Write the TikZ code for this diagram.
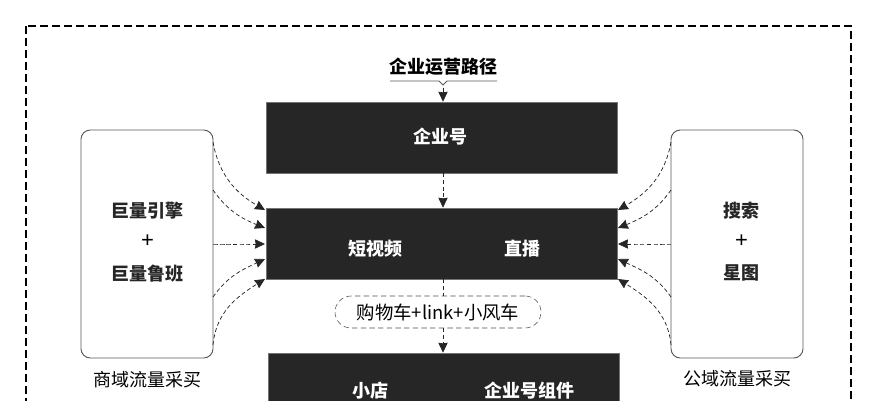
\documentclass[tikz,border=0pt]{standalone}
\usepackage{fontspec}
\setmainfont{Noto Sans CJK SC}
\newfontfamily\plusfont{Liberation Sans}
\usetikzlibrary{arrows.meta,positioning}

\begin{document}
\begin{tikzpicture}[x=0.75pt,y=-0.75pt,>={Stealth[length=7.5pt,width=7pt,inset=0.5pt]},font=\fontsize{13.5pt}{16pt}\selectfont,
  dark node/.style={rectangle,fill=black!85,draw=black!55,minimum width=263.5pt,minimum height=53.25pt,inner sep=0pt},
  dark text/.style={text=white,font=\fontsize{13.5pt}{16pt}\selectfont\bfseries},
  side node/.style={rectangle,rounded corners=7pt,draw=black!65,line width=0.7pt,minimum width=99pt,minimum height=171pt},
  side text/.style={text=black!85,font=\fontsize{13.5pt}{16pt}\selectfont\bfseries},
  plus node/.style={font=\fontsize{16.5pt}{18pt}\selectfont\plusfont,inner sep=0pt},
  flow/.style={->,dash pattern=on 3pt off 2pt,line width=0.55pt,black!85}]

  \path[use as bounding box,clip] (0,0) rectangle (888,400);

  \draw[dash pattern=on 6pt off 3pt,line width=1.2pt] (26,26) rectangle (851,430);

  \node[dark node] (account) at (441.5,137.5) {};
  \node[dark node] (content) [below of=account,node distance=79.5pt] {};
  \node[rectangle,rounded corners=12pt,draw=black!70,dash pattern=on 4pt off 2.5pt,minimum width=154.5pt,minimum height=24pt,inner sep=0pt,font=\fontsize{13.8pt}{16pt}\selectfont]
    (cart) at (438,312) {购物车+link+小风车};
  \node[dark node] (shop) at (444,388.5) {};

  \node[inner sep=0pt,font=\fontsize{13.5pt}{16pt}\selectfont\bfseries] (title) at (443.5,67) {企业运营路径};
  \coordinate (notch) at (443,85);
  \coordinate (stem) at (443,88);
  \draw[black!65,line width=0.55pt] (390,81) -- (439,81) -- (notch) -- (447,81) -- (497,81);
  \draw[->,black!85,line width=0.55pt] (stem) -- (account.north -| stem);

  \node[dark text] (accounttext) at (440.5,137) {企业号};
  \node[dark text] (video) at (375,249) {短视频};
  \node[dark text] (live) at (522,249) {直播};
  \node[dark text] (store) at (370,391) {小店};
  \node[dark text] (widget) at (529,391) {企业号组件};

  \node[side node] (left) at (147,244) {};
  \node[side node] (right) at (737,244) {};

  \node[side text] (engine) at (147,211) {巨量引擎};
  \node[plus node] (leftplus) at (147.5,241) {+};
  \node[side text] (luban) at (147,274) {巨量鲁班};
  \node (leftname) at (147,380) {商域流量采买};

  \node[side text] (search) at (741,211) {搜索};
  \node[plus node] (rightplus) at (741.5,241) {+};
  \node[side text] (star) at (741,273) {星图};
  \node (rightname) at (737,379) {公域流量采买};

  \draw[flow] (account.south -| stem) -- (content.north -| stem);
  \draw[flow,-] (content.south -| stem) -- (cart.north -| stem);
  \draw[flow] (cart.south -| stem) -- (shop.north -| stem);

  % five arrows on each side
  \foreach \i/\ys/\ye/\ang/\inang in {1/142/210/-80/150, 2/190/228/-55/158, 3/244/244/0/180, 4/297/259/55/205, 5/345/279/85/212} {
    \coordinate (ls\i) at (213,\ys);
    \coordinate (le\i) at (265,\ye);
    \coordinate (rs\i) at (671,\ys);
    \coordinate (re\i) at (618,\ye);
    \draw[flow] (ls\i) to[out=\ang,in=\inang] (le\i);
    \draw[flow] (rs\i) to[out=180-\ang,in=180-\inang] (re\i);
  }
\end{tikzpicture}
\end{document}
